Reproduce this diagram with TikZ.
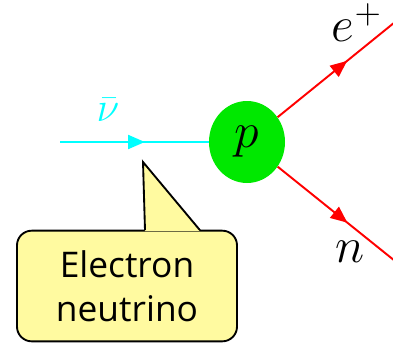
\documentclass[tikz,border=0pt]{standalone}
\usepackage{fontspec}
\newfontfamily\calloutfont{Open Sans}
\usepackage{tikz}
\usetikzlibrary{arrows.meta,shapes.geometric,decorations.markings,calc}
\definecolor{protongreen}{RGB}{0,232,0}
\definecolor{calloutyellow}{RGB}{255,250,160}
\definecolor{nucyan}{RGB}{0,255,255}
\definecolor{lepred}{RGB}{255,0,0}

\begin{document}
\begin{tikzpicture}[
    x=0.75pt, y=-0.75pt,
    proton/.style={
        ellipse,
        fill=protongreen,
        minimum width=57pt,
        minimum height=61.5pt,
        inner sep=0pt,
        font=\huge
    },
    tag/.style={inner sep=1pt, font=\huge},
    particle/.style={
        line width=1.45pt,
        decoration={markings, mark=at position 0.57 with {\arrow{Triangle[length=12.5pt,width=10.5pt]}}},
        postaction={decorate}
    },
    balloon/.style={
        draw,
        line width=1.4pt,
        fill=calloutyellow,
        rounded corners=11pt,
        minimum width=165pt,
        minimum height=83pt,
        align=center,
        font=\calloutfont\fontsize{26.5}{33}\selectfont
    }
]
\useasboundingbox (0,0) rectangle (393,344);

\node[proton] (p) at (247,142) {\scalebox{1.8}{$p$}};
\coordinate (nuin) at (60,142);
\coordinate (eout) at (400,18);
\coordinate (nout) at (400,265);

\draw[particle, nucyan] (nuin) -- (p);
\draw[particle, lepred] (p) -- (eout);
\draw[particle, lepred] (p) -- (nout);

\node[tag, nucyan] (nubar) at (108,110) {\scalebox{1.5}{$\bar\nu$}};
\node[tag] (eplus) at (357,23) {\scalebox{1.8}{$e^+$}};
\node[tag] (neutron) at (350,252) {\scalebox{1.8}{$n$}};

% speech balloon
\node[balloon] (callout) at (127,286) {Electron\\neutrino};
\coordinate (tip) at (143,162);
\fill[calloutyellow] ($(callout.north)+(18,1.5)$) -- (tip) -- ($(callout.north)+(73,1.5)$) -- cycle;
\draw[line width=1.4pt, line join=miter] ($(callout.north)+(18,0.5)$) -- (tip) -- ($(callout.north)+(73,0.5)$);
\end{tikzpicture}
\end{document}
